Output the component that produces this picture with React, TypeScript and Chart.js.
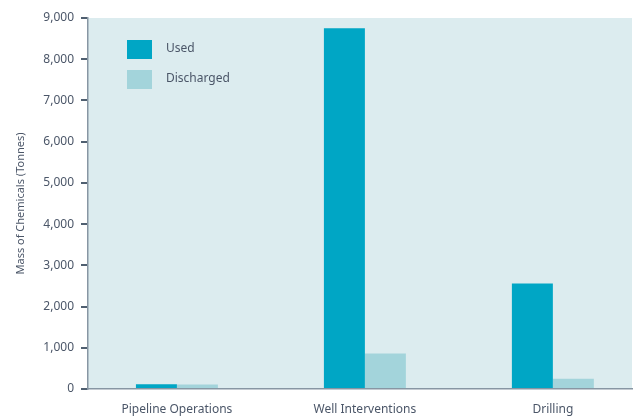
import React, { useEffect, useRef } from "react";
import { Chart, registerables } from "chart.js";

Chart.register(...registerables);

const categories = ["Pipeline Operations", "Well Interventions", "Drilling"];
const usedValues = [115, 8750, 2560];
const dischargedValues = [110, 860, 250];
const seriesLabels = ["Used", "Discharged"];
const yTicks = [0, 1000, 2000, 3000, 4000, 5000, 6000, 7000, 8000, 9000];

const FONT = "'Noto Sans', 'Open Sans', sans-serif";
const TEXT = "#4b5668";

const bgPlugin = {
  id: "plotBg",
  beforeDraw(chart: any) {
    const { ctx, chartArea } = chart;
    ctx.save();
    ctx.fillStyle = "#dcecef";
    ctx.fillRect(chartArea.left, chartArea.top, chartArea.right - chartArea.left, chartArea.bottom - chartArea.top);
    ctx.restore();
  },
};

const legendPlugin = {
  id: "insideLegend",
  afterDraw(chart: any) {
    const { ctx, chartArea } = chart;
    ctx.save();
    ctx.font = `12px ${FONT}`;
    ctx.textBaseline = "middle";
    chart.data.datasets.forEach((ds: any, i: number) => {
      const x = chartArea.left + 39;
      const y = chartArea.top + 22 + i * 30;
      ctx.fillStyle = ds.backgroundColor;
      ctx.fillRect(x, y, 25, 19);
      ctx.fillStyle = TEXT;
      ctx.fillText(ds.label, x + 39, y + 9);
    });
    ctx.restore();
  },
};

export default function App() {
  const ref = useRef<HTMLCanvasElement>(null);
  useEffect(() => {
    document.body.style.margin = "0";
    const chart = new Chart(ref.current!, {
      type: "bar",
      data: {
        datasets: [
          {
            label: seriesLabels[0],
            data: usedValues.map((v, i) => ({ x: i, y: v })),
            backgroundColor: "#00a6c5",
          },
          {
            label: seriesLabels[1],
            data: dischargedValues.map((v, i) => ({ x: i, y: v })),
            backgroundColor: "#a3d4db",
          },
        ],
      },
      options: {
        animation: false,
        responsive: false,
        maintainAspectRatio: false,
        categoryPercentage: 0.436,
        barPercentage: 1,
        layout: { padding: { top: 18, right: 6, left: 0, bottom: 0 } },
        plugins: { legend: { display: false }, tooltip: { enabled: false } },
        scales: {
          x: {
            type: "linear",
            offset: false,
            min: -0.473,
            max: 2.421,
            afterBuildTicks: (scale: any) => {
              scale.ticks = categories.map((_, i) => ({ value: i }));
            },
            ticks: {
              callback: (v: any) => categories[v as number] ?? "",
              font: { family: FONT, size: 12 },
              color: TEXT,
              padding: 13,
              maxRotation: 0,
              autoSkip: false,
            },
            grid: { display: false, drawTicks: false },
            border: { display: true, color: "#8796a3", width: 1.5 },
            afterFit: (scale: any) => {
              scale.height = 28;
            },
          },
          y: {
            min: 0,
            max: 9000,
            afterBuildTicks: (scale: any) => {
              scale.ticks = yTicks.map((v) => ({ value: v }));
            },
            ticks: {
              callback: (v: any) => Number(v).toLocaleString("en-US"),
              font: { family: FONT, size: 12 },
              color: TEXT,
              padding: 7,
            },
            grid: {
              drawOnChartArea: false,
              drawTicks: true,
              tickLength: 7,
              color: "#4f5f70",
              lineWidth: 2,
            },
            border: { display: true, color: "#8796a3", width: 1.5 },
            title: {
              display: true,
              text: "Mass of Chemicals (Tonnes)",
              font: { family: FONT, size: 11 },
              color: TEXT,
              padding: { top: 14, bottom: 8 },
            },
            afterFit: (scale: any) => {
              scale.width = 88;
            },
          },
        },
      },
      plugins: [bgPlugin, legendPlugin],
    });
    return () => chart.destroy();
  }, []);
  return (
    <div style={{ position: "absolute", left: 0, top: 0, width: 638, height: 417 }}>
      <canvas ref={ref} width={638} height={417} style={{ display: "block" }} />
    </div>
  );
}
